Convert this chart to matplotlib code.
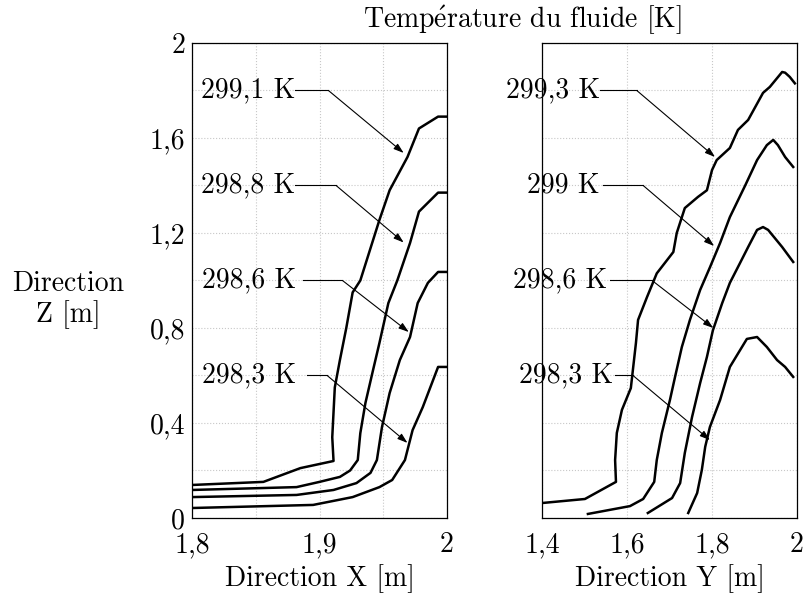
import numpy as np
import matplotlib.pyplot as plt

plt.rcParams['font.family'] = ['cmr10', 'DejaVu Serif']
plt.rcParams['mathtext.fontset'] = 'cm'
plt.rcParams['axes.unicode_minus'] = False
plt.rcParams['axes.formatter.use_mathtext'] = True

# Profils de température - coupe selon X
x_2991 = [1.80, 1.856, 1.885, 1.911, 1.910, 1.912, 1.916, 1.921, 1.926, 1.932, 1.947, 1.955, 1.969, 1.978, 1.993, 2.00]
zx_2991 = [0.139, 0.152, 0.21, 0.24, 0.34, 0.55, 0.665, 0.80, 0.95, 1.00, 1.255, 1.38, 1.52, 1.64, 1.69, 1.69]
x_2988 = [1.80, 1.882, 1.90, 1.916, 1.924, 1.930, 1.932, 1.936, 1.942, 1.947, 1.954, 1.961, 1.971, 1.978, 1.993, 2.00]
zx_2988 = [0.118, 0.13, 0.152, 0.173, 0.20, 0.244, 0.357, 0.484, 0.623, 0.737, 0.905, 1.00, 1.158, 1.29, 1.37, 1.37]
x_2986 = [1.80, 1.882, 1.911, 1.929, 1.940, 1.945, 1.949, 1.955, 1.963, 1.971, 1.977, 1.985, 1.993, 2.00]
zx_2986 = [0.088, 0.097, 0.118, 0.147, 0.19, 0.244, 0.383, 0.526, 0.665, 0.762, 0.905, 0.99, 1.036, 1.036]
x_2983 = [1.80, 1.895, 1.926, 1.947, 1.957, 1.967, 1.973, 1.981, 1.993, 2.00]
zx_2983 = [0.042, 0.055, 0.088, 0.13, 0.16, 0.244, 0.37, 0.467, 0.636, 0.636]

# Profils de température - coupe selon Y
y_2993 = [1.40, 1.501, 1.574, 1.572, 1.576, 1.588, 1.609, 1.621, 1.626, 1.647, 1.670, 1.709, 1.717, 1.736,
          1.767, 1.788, 1.800, 1.811, 1.842, 1.861, 1.885, 1.920, 1.936, 1.965, 1.972, 1.983, 1.995]
zy_2993 = [0.063, 0.08, 0.152, 0.244, 0.358, 0.455, 0.547, 0.737, 0.834, 0.93, 1.03, 1.12, 1.20, 1.305,
           1.352, 1.38, 1.465, 1.507, 1.558, 1.634, 1.676, 1.79, 1.815, 1.878, 1.875, 1.857, 1.83]
y_2990 = [1.508, 1.607, 1.638, 1.664, 1.670, 1.682, 1.701, 1.713, 1.729, 1.748, 1.772, 1.795, 1.819, 1.842,
          1.878, 1.906, 1.929, 1.944, 1.955, 1.972, 1.991]
zy_2990 = [0.017, 0.05, 0.08, 0.152, 0.244, 0.358, 0.497, 0.594, 0.72, 0.834, 0.96, 1.055, 1.158, 1.267,
           1.40, 1.507, 1.57, 1.592, 1.57, 1.52, 1.478]
y_2986 = [1.649, 1.706, 1.725, 1.736, 1.753, 1.772, 1.788, 1.802, 1.824, 1.842, 1.866, 1.885, 1.906, 1.920,
          1.932, 1.965, 1.991]
zy_2986 = [0.021, 0.084, 0.147, 0.274, 0.425, 0.568, 0.678, 0.79, 0.905, 0.99, 1.074, 1.141, 1.213, 1.225,
           1.213, 1.141, 1.078]
y_2983 = [1.744, 1.765, 1.776, 1.784, 1.795, 1.819, 1.842, 1.882, 1.906, 1.929, 1.953, 1.972, 1.991]
zy_2983 = [0.021, 0.105, 0.202, 0.30, 0.383, 0.497, 0.636, 0.754, 0.762, 0.72, 0.665, 0.636, 0.594]

labels_x = ['299,1 K', '298,8 K', '298,6 K', '298,3 K']
labels_y = ['299,3 K', '299 K', '298,6 K', '298,3 K']

# positions des étiquettes (texte, début du trait, coude, pointe de flèche)
lab_z = [1.8, 1.4, 1.0, 0.6]
txt_x = [1.881, 1.881, 1.882, 1.882]
start_x = [1.881, 1.881, 1.887, 1.890]
elbow_x = [1.907, 1.913, 1.918, 1.906]
tip_x = [(1.966, 1.537), (1.966, 1.16), (1.970, 0.783), (1.969, 0.316)]
txt_y = [1.536, 1.536, 1.553, 1.567]
start_y = [1.536, 1.544, 1.560, 1.572]
elbow_y = [1.623, 1.638, 1.659, 1.614]
tip_y = [(1.807, 1.52), (1.805, 1.145), (1.803, 0.80), (1.795, 0.328)]

fig = plt.figure(figsize=(8.05, 5.98), dpi=100)
ax1 = fig.add_axes([0.2385, 0.1338, 0.3168, 0.7943])
ax2 = fig.add_axes([0.6733, 0.1338, 0.3168, 0.7943])

fs = 20


def habiller(ax, xlim, xticks, xlabels, xgrid):
    ax.set_xlim(*xlim)
    ax.set_ylim(0, 2)
    ax.set_xticks(xticks)
    ax.set_xticklabels(xlabels, fontsize=fs)
    ax.set_xticks(xgrid, minor=True)
    ax.set_yticks(np.arange(0, 2.01, 0.4))
    ax.set_yticks(np.arange(0.2, 2.0, 0.4), minor=True)
    ax.tick_params(which='both', length=0)
    ax.tick_params(axis='x', pad=10)
    ax.tick_params(axis='y', pad=5)
    ax.grid(True, which='both', color='#c8c8c8', linestyle=':', linewidth=0.8)
    ax.set_axisbelow(True)
    for sp in ax.spines.values():
        sp.set_linewidth(0.9)


habiller(ax1, (1.8, 2.0), [1.8, 1.9, 2.0], ['1,8', '1,9', '2'], [1.85, 1.95])
ax1.set_yticklabels(['0', '0,4', '0,8', '1,2', '1,6', '2'], fontsize=fs)
habiller(ax2, (1.4, 2.0), [1.4, 1.6, 1.8, 2.0], ['1,4', '1,6', '1,8', '2'], [])
ax2.set_yticklabels([])

for xs, zs in [(x_2991, zx_2991), (x_2988, zx_2988), (x_2986, zx_2986), (x_2983, zx_2983)]:
    ax1.plot(xs, zs, color='black', lw=1.8)
for ys, zs in [(y_2993, zy_2993), (y_2990, zy_2990), (y_2986, zy_2986), (y_2983, zy_2983)]:
    ax2.plot(ys, zs, color='black', lw=1.8)


def etiquettes(ax, labels, tx, sx, ex, tips):
    for i, lab in enumerate(labels):
        z = lab_z[i]
        ax.text(tx[i], z, lab, ha='right', va='center', fontsize=fs, clip_on=False)
        ax.plot([sx[i], ex[i]], [z, z], color='black', lw=0.8)
        ax.annotate('', xy=tips[i], xytext=(ex[i], z),
                    arrowprops=dict(arrowstyle='-|>,head_length=0.6,head_width=0.2',
                                    color='black', lw=0.8, shrinkA=0, shrinkB=0))


etiquettes(ax1, labels_x, txt_x, start_x, elbow_x, tip_x)
etiquettes(ax2, labels_y, txt_y, start_y, elbow_y, tip_y)

ax1.set_xlabel('Direction X [m]', fontsize=fs, labelpad=4)
ax2.set_xlabel('Direction Y [m]', fontsize=fs, labelpad=4)
fig.text(68 / 805, 1 - 300 / 598, 'Direction\nZ [m]', ha='center', va='center',
         fontsize=fs, linespacing=1.15)
fig.text(522 / 805, 1 - 20 / 598, r'Temp$\acute{\mathrm{e}}$rature du fluide [K]',
         ha='center', va='center', fontsize=fs)

fig.savefig('out.png', dpi=100)
